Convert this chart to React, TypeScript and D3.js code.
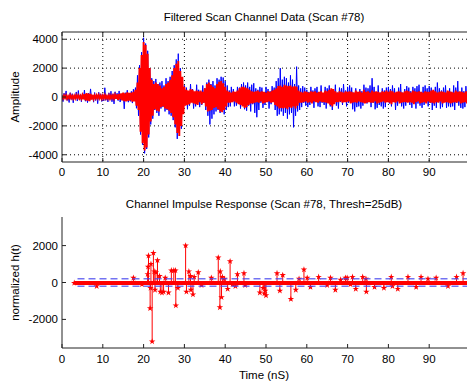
import * as d3 from 'd3'

// sample spacing of the two scan traces (ns)
const sampleStep = 0.25

// raw (noisy) scan channel data, one value every 0.25 ns from 0 ns
const rawScan = [
  150, -320, 260, -110, 420, -240, 80, -380, 300, -170, 230, -400, 120, -60, 350, -280, 450, -190, 160, -330,
  240, -120, 480, -290, 140, -390, 260, -200, 560, -150, 70, -360, 310, -240, 190, -460, 330, -100, 220, -310,
  160, -270, 640, -230, 110, -340, 290, -180, 400, -330, 210, -480, 360, -140, 260, -250, 420, -350, 130, -220,
  240, -820, 300, -170, 470, -360, 200, -300, 390, -420, 540, -250, 650, -780, 1500, -1300, 2200, -2600, 3100, -3300,
  4100, -3900, 3700, -3600, 3200, -2800, 2000, -1900, 1300, -1500, 1100, -900, 1250, -1100, 900, -1300, 1000, -800, 1100, -700,
  800, -1000, 1300, -900, 1100, -1200, 1400, -1300, 1800, -1600, 2200, -2100, 2600, -2900, 3000, -2500, 2000, -2200, 1300, -1100,
  800, -500, 650, -850, 400, -600, 900, -350, 550, -800, 300, -650, 850, -450, 500, -700, 350, -550, 800, -400,
  600, -900, 1000, -1300, 1200, -1900, 900, -1500, 1100, -1200, 800, -1000, 1300, -900, 1200, -1100, 1400, -1000, 1350, -1200,
  1100, -900, 800, -700, 450, -650, 700, -350, 550, -650, 300, -600, 700, -400, 650, -800, 900, -500, 1000, -850,
  800, -950, 1000, -600, 700, -1000, 850, -500, 950, -1100, 600, -1400, 500, -900, 700, -400, 650, -750, 300, -550,
  700, -350, 550, -800, 400, -500, 750, -300, 650, -900, 1100, -1300, 1300, -1200, 2000, -1000, 1200, -1300, 1400, -1100,
  1300, -1500, 1000, -1200, 1500, -1100, 1200, -2100, 900, -1300, 2100, -1000, 800, -900, 600, -700, 750, -400, 650, -600,
  500, -700, 350, -550, 700, -300, 450, -750, 600, -250, 700, -650, 350, -700, 800, -400, 250, -550, 700, -800,
  600, -350, 800, -650, 300, -900, 550, -400, 850, -600, 300, -800, 650, -350, 600, -550, 900, -300, 450, -650,
  700, -400, 800, -350, 650, -850, 300, -1000, 600, -700, 350, -650, 550, -800, 400, -600, 850, -300, 650, -450,
  600, -350, 800, -700, 1300, -400, 700, -850, 350, -750, 800, -550, 300, -650, 600, -800, 450, -700, 650, -300,
  700, -450, 550, -650, 800, -300, 600, -900, 350, -600, 650, -400, 900, -650, 300, -800, 550, -600, 750, -350,
  650, -550, 400, -750, 700, -300, 600, -800, 750, -450, 850, -600, 350, -750, 700, -550, 800, -300, 600, -650,
  750, -400, 650, -900, 300, -600, 700, -750, 1000, -350, 600, -800, 450, -700, 650, -300, 800, -750, 400, -650,
  600, -700, 350, -650, 800, -900, 650, -400, 1100, -600, 300, -750, 650, -800, 400, -700, 750, -350, 700, -600,
]

// filtered scan channel data, same time base
const filteredScan = [
  80, -90, 110, -70, 100, -120, 60, -90, 120, -80, 70, -110, 90, -100, 120, -60, 100, -90, 80, -110,
  120, -150, 200, -230, 260, -250, 240, -280, 220, -180, 150, -120, 100, -90, 110, -80, 120, -100, 90, -110,
  100, -80, 120, -90, 70, -110, 100, -120, 90, -80, 110, -100, 150, -130, 180, -200, 220, -160, 250, -230,
  300, -280, 250, -300, 320, -260, 280, -240, 300, -330, 350, -300, 500, -600, 1000, -900, 2000, -2400, 2900, -3200,
  3800, -3700, 3600, -3500, 3000, -2600, 2000, -1700, 1200, -1300, 900, -850, 1000, -950, 900, -1000, 800, -700, 600, -650,
  700, -800, 900, -850, 1000, -950, 1200, -1100, 1500, -1400, 2000, -1900, 2300, -2500, 2500, -2700, 1800, -2000, 1400, -1200,
  700, -600, 500, -550, 450, -500, 550, -400, 500, -450, 400, -500, 450, -550, 400, -350, 450, -500, 350, -400,
  600, -650, 900, -1000, 1000, -950, 850, -900, 700, -750, 600, -700, 900, -850, 1050, -1000, 1100, -1050, 950, -900,
  700, -650, 450, -400, 350, -400, 300, -350, 400, -300, 350, -400, 450, -500, 600, -550, 700, -650, 700, -750,
  650, -700, 600, -550, 500, -450, 400, -450, 350, -400, 400, -350, 450, -400, 350, -300, 400, -450, 350, -400,
  300, -350, 400, -300, 350, -400, 450, -350, 500, -550, 600, -650, 750, -800, 800, -750, 700, -800, 850, -750,
  800, -850, 750, -700, 800, -750, 700, -650, 750, -800, 700, -600, 450, -400, 350, -400, 300, -350, 400, -300,
  350, -400, 300, -350, 400, -450, 350, -300, 400, -350, 300, -400, 350, -300, 400, -350, 300, -350, 450, -400,
  400, -450, 500, -550, 600, -650, 550, -500, 400, -350, 300, -350, 400, -300, 350, -400, 300, -350, 400, -350,
  350, -300, 400, -450, 350, -400, 300, -350, 450, -400, 350, -300, 400, -350, 300, -400, 500, -450, 350, -400,
  400, -350, 300, -400, 450, -400, 350, -300, 400, -450, 350, -400, 300, -350, 400, -300, 350, -400, 450, -350,
  350, -400, 450, -500, 400, -350, 300, -400, 350, -300, 400, -450, 350, -400, 300, -350, 400, -350, 450, -400,
  400, -350, 300, -400, 450, -500, 400, -350, 350, -300, 400, -450, 350, -400, 300, -350, 400, -450, 350, -300,
  350, -400, 450, -400, 500, -450, 400, -350, 300, -400, 350, -300, 400, -450, 350, -400, 300, -350, 450, -400,
  400, -450, 350, -400, 300, -350, 450, -400, 350, -300, 400, -450, 350, -400, 300, -350, 400, -450, 350, -300,
]

// channel impulse response taps above threshold
const tapTimes = [
  8.5, 17.5, 19.6, 21.0, 21.1, 21.2, 21.6, 21.7, 21.8, 22.1, 22.4, 22.6, 22.8, 23.0, 23.4, 23.9, 24.1, 24.5, 24.9, 25.3,
  26.1, 26.8, 27.4, 27.8, 27.9, 28.4, 30.3, 30.5, 31.1, 31.5, 31.6, 32.1, 32.4, 33.4, 34.2, 36.6, 38.3, 38.7, 38.8, 39.1,
  39.3, 39.8, 40.6, 41.2, 41.8, 42.5, 43.0, 44.6, 44.9, 48.5, 49.3, 49.6, 49.8, 50.0, 52.7, 53.4, 54.1, 56.1, 57.3, 58.1,
  59.3, 60.1, 60.9, 62.9, 65.0, 65.8, 67.0, 68.3, 69.5, 69.9, 70.7, 71.2, 72.0, 73.7, 74.5, 74.6, 76.6, 78.9, 80.7, 81.0,
  82.3, 84.8, 86.8, 88.0, 89.7, 91.7, 94.6, 96.7, 98.3,
]
const tapValues = [
  -200, 250, -100, 450, 850, 1450, -1400, -300, 1000, -3200, 1600, 600, -400, 550, 1200, 350, -500, -550, -500, 250,
  -550, 650, 650, 650, -1250, -300, 2000, -500, 600, 350, -400, -650, 300, 550, -150, 250, 1350, -1350, 600, -800,
  300, 200, -350, 1150, -100, -200, 450, 500, -150, -550, -300, -600, -450, -700, 500, -450, 400, -900, -400, 200,
  700, 250, -250, 300, -150, 250, -400, 150, 250, 250, -100, 300, -350, 300, 200, -500, -250, -300, 300, -200,
  -350, 300, -250, 300, 200, 250, -200, 300, 500,
]
const tapStart = 3
const threshold = 200

const xTicks = [0, 10, 20, 30, 40, 50, 60, 70, 80, 90]
const topYTicks = [-4000, -2000, 0, 2000, 4000]
const bottomYTicks = [-2000, 0, 2000]

const W = 467
const H = 385
const font = '"Liberation Sans", Arial, Helvetica, sans-serif'

const x = d3.scaleLinear().domain([0, 100]).range([62, 470])
const yTop = d3.scaleLinear().domain([-4500, 4500]).range([162, 32])
const yBot = d3.scaleLinear().domain([-3550, 3550]).range([348, 217])

export default function App() {
  const traceLine = d3
    .line<number>()
    .x((_, i) => x(i * sampleStep))
    .y(d => yTop(d))

  const star = d3.symbol().type(d3.symbolStar).size(13)()

  return (
    <svg
      width={W}
      height={H}
      style={{ position: 'absolute', left: 0, top: 0, background: '#fff' }}
      fontFamily={font}
    >
      <defs>
        <clipPath id="topClip">
          <rect x={62} y={32} width={410} height={130} />
        </clipPath>
      </defs>

      {/* ---- top panel ---- */}
      <text x={264} y={21} fontSize={11.5} textAnchor="middle">
        Filtered Scan Channel Data (Scan #78)
      </text>

      {/* grid */}
      {xTicks.slice(1).map(t => (
        <line key={'gx' + t} x1={x(t)} x2={x(t)} y1={32} y2={162} stroke="#000" strokeDasharray="1,3" />
      ))}
      {topYTicks.map(t => (
        <line key={'gy' + t} x1={62} x2={470} y1={yTop(t)} y2={yTop(t)} stroke="#000" strokeDasharray="1,3" />
      ))}

      <g clipPath="url(#topClip)">
        <path d={traceLine(rawScan) ?? ''} fill="none" stroke="#0000ff" strokeWidth={1} />
        <path d={traceLine(filteredScan) ?? ''} fill="none" stroke="#ff0000" strokeWidth={1.9} />
      </g>

      {/* box */}
      <line x1={62} x2={470} y1={32} y2={32} stroke="#222" />
      <line x1={62} x2={470} y1={162} y2={162} stroke="#222" />
      <line x1={62} x2={62} y1={32} y2={162} stroke="#222" />
      {xTicks.map(t => (
        <g key={'tx' + t}>
          <line x1={x(t)} x2={x(t)} y1={162} y2={158} stroke="#222" />
          <line x1={x(t)} x2={x(t)} y1={32} y2={36} stroke="#222" />
          <text x={x(t)} y={176} fontSize={11.5} textAnchor="middle">
            {t}
          </text>
        </g>
      ))}
      {topYTicks.map(t => (
        <g key={'ty' + t}>
          <line x1={62} x2={66} y1={yTop(t)} y2={yTop(t)} stroke="#222" />
          <text x={58} y={yTop(t) + 4} fontSize={11.5} textAnchor="end">
            {t}
          </text>
        </g>
      ))}
      <text transform={`translate(19,${yTop(0)}) rotate(-90)`} fontSize={11.5} textAnchor="middle">
        Amplitude
      </text>

      {/* ---- bottom panel ---- */}
      <text x={264} y={208} fontSize={11.5} textAnchor="middle">
        Channel Impulse Response (Scan #78, Thresh=25dB)
      </text>

      {/* stem baseline made of the dense small taps */}
      <line
        x1={x(tapStart)}
        x2={470}
        y1={yBot(0) + 0.5}
        y2={yBot(0) + 0.5}
        stroke="#ff0000"
        strokeWidth={4}
      />
      <path
        d={star}
        transform={`translate(${x(tapStart)},${yBot(0) + 0.5})`}
        fill="#ff0000"
      />
      {tapTimes.map((t, i) => (
        <g key={'s' + i}>
          <line x1={x(t)} x2={x(t)} y1={yBot(0)} y2={yBot(tapValues[i])} stroke="#ff0000" strokeWidth={1} />
          <path d={star} transform={`translate(${x(t)},${yBot(tapValues[i])})`} fill="#ff0000" />
        </g>
      ))}
      {[threshold, -threshold].map(v => (
        <line
          key={'th' + v}
          x1={x(tapStart + 0.8)}
          x2={470}
          y1={yBot(v)}
          y2={yBot(v)}
          stroke="#4444ee"
          strokeOpacity={0.75}
          strokeWidth={1.6}
          strokeDasharray="7,4"
        />
      ))}

      <line x1={62} x2={470} y1={348} y2={348} stroke="#222" />
      <line x1={62} x2={62} y1={217} y2={348} stroke="#222" />
      {xTicks.map(t => (
        <g key={'bx' + t}>
          <line x1={x(t)} x2={x(t)} y1={348} y2={344} stroke="#222" />
          <text x={x(t)} y={363} fontSize={11.5} textAnchor="middle">
            {t}
          </text>
        </g>
      ))}
      {bottomYTicks.map(t => (
        <g key={'by' + t}>
          <line x1={62} x2={66} y1={yBot(t)} y2={yBot(t)} stroke="#222" />
          <text x={58} y={yBot(t) + 4} fontSize={11.5} textAnchor="end">
            {t}
          </text>
        </g>
      ))}
      <text transform={`translate(19,${yBot(0)}) rotate(-90)`} fontSize={11.5} textAnchor="middle">
        normalized h(t)
      </text>
      <text x={264} y={379} fontSize={11.5} textAnchor="middle">
        Time (nS)
      </text>
    </svg>
  )
}
